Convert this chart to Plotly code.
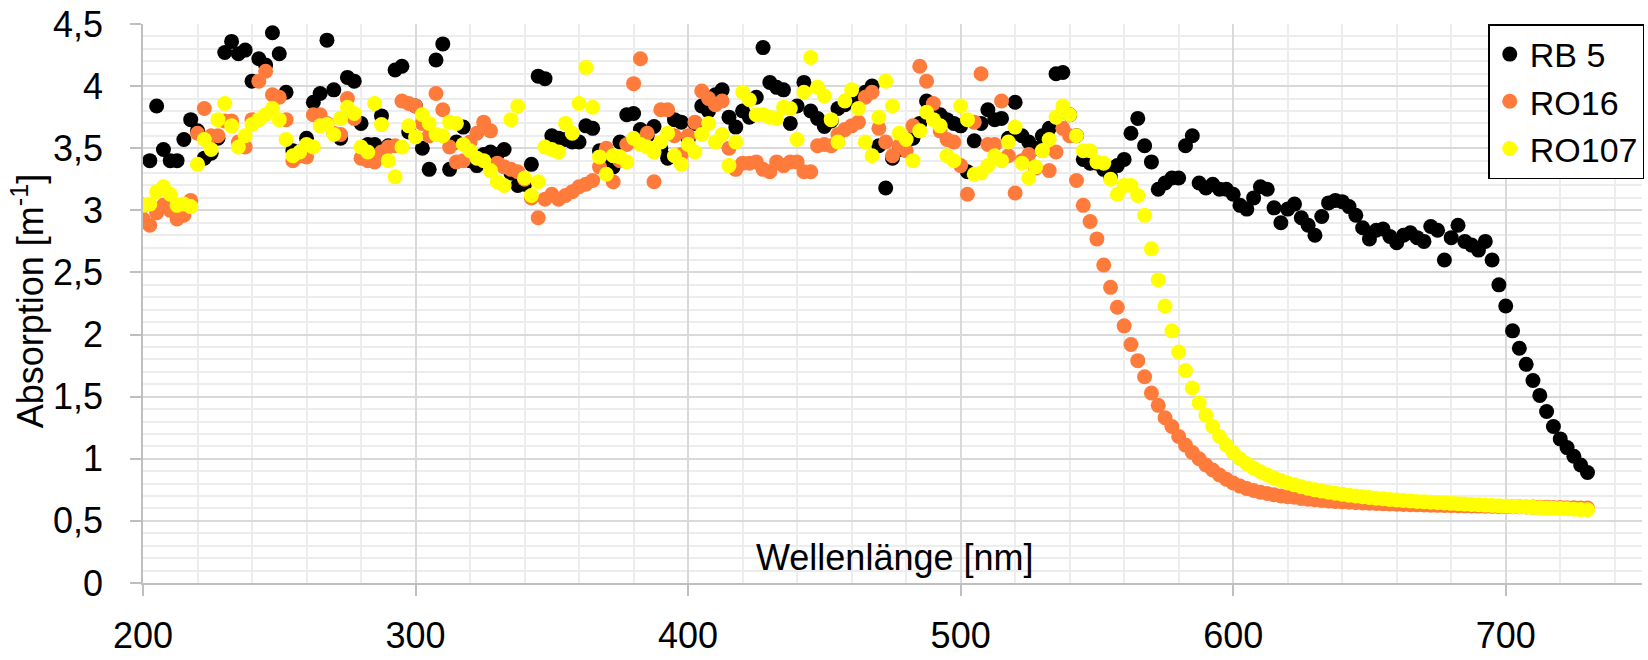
import numpy as np
import plotly.graph_objects as go

# Wellenlänge in nm, Messraster 2,5 nm
wavelength = np.arange(200, 730.01, 2.5)

rb5 = [
    3.04, 3.40, 3.84, 3.49, 3.40, 3.40, 3.57, 3.73, 3.64, 3.42,
    3.46, 3.58, 4.27, 4.36, 4.26, 4.29, 4.04, 4.22, 4.17, 4.43,
    4.26, 3.95, 3.48, 3.47, 3.58, 3.87, 3.94, 4.37, 3.97, 3.58,
    4.07, 4.04, 3.70, 3.53, 3.53, 3.76, 3.52, 4.13, 4.16, 3.63,
    3.84, 3.50, 3.33, 4.21, 4.34, 3.33, 3.55, 3.67, 3.40, 3.36,
    3.45, 3.47, 3.45, 3.49, 3.30, 3.20, 3.21, 3.37, 4.08, 4.06,
    3.60, 3.58, 3.57, 3.55, 3.55, 3.68, 3.66, 3.48, 3.39, 3.35,
    3.55, 3.77, 3.78, 3.65, 3.60, 3.675, 3.50, 3.42, 3.73, 3.71,
    3.57, 3.70, 3.84, 3.80, 3.93, 3.97, 3.75, 3.67, 3.80, 3.75,
    3.91, 4.31, 4.03, 3.99, 3.97, 3.70, 3.84, 4.03, 3.80, 3.74,
    3.675, 3.72, 3.82, 3.85, 3.88, 3.91, 3.95, 4.00, 3.52, 3.18,
    3.42, 3.49, 3.55, 3.58, 3.70, 3.88, 3.80, 3.77, 3.73, 3.70,
    3.68, 3.31, 3.56, 3.70, 3.81, 3.73, 3.74, 3.58, 3.87, 3.60,
    3.55, 3.50, 3.60, 3.66, 4.10, 4.11, 3.77, 3.60, 3.41, 3.38,
    3.38, 3.33, 3.27, 3.36, 3.41, 3.62, 3.74, 3.52, 3.39, 3.17,
    3.22, 3.26, 3.26, 3.52, 3.60, 3.22, 3.18, 3.21, 3.17, 3.17,
    3.13, 3.04, 3.01, 3.10, 3.19, 3.17, 3.02, 2.90, 3.01, 3.05,
    2.94, 2.88, 2.80, 2.95, 3.06, 3.08, 3.07, 3.03, 2.96, 2.86,
    2.77, 2.84, 2.85, 2.79, 2.74, 2.80, 2.82, 2.78, 2.75, 2.87,
    2.84, 2.60, 2.78, 2.88, 2.75, 2.72, 2.68, 2.75, 2.60, 2.40,
    2.23, 2.03, 1.89, 1.76, 1.63, 1.51, 1.38, 1.26, 1.16, 1.09,
    1.02, 0.95, 0.89,
]

ro16 = [
    2.93, 2.88, 2.98, 3.04, 3.00, 2.93, 2.96, 3.08, 3.62, 3.82,
    3.60, 3.60, 3.72, 3.72, 3.55, 3.51, 3.73, 4.04, 4.12, 3.93,
    3.91, 3.73, 3.40, 3.44, 3.43, 3.77, 3.77, 3.70, 3.62, 3.61,
    3.90, 3.74, 3.42, 3.40, 3.39, 3.47, 3.51, 3.52, 3.88, 3.86,
    3.84, 3.70, 3.60, 3.94, 3.81, 3.51, 3.39, 3.40, 3.55, 3.62,
    3.71, 3.64, 3.38, 3.35, 3.33, 3.31, 3.25, 3.10, 2.94, 3.09,
    3.13, 3.09, 3.12, 3.15, 3.19, 3.21, 3.24, 3.35, 3.50, 3.23,
    3.40, 3.53, 4.02, 4.22, 3.62, 3.23, 3.81, 3.81, 3.60, 3.45,
    3.60, 3.71, 3.96, 3.90, 3.85, 3.88, 3.50, 3.33, 3.38, 3.38,
    3.39, 3.33, 3.31, 3.39, 3.36, 3.39, 3.39, 3.31, 3.31, 3.52,
    3.53, 3.52, 3.61, 3.65, 3.68, 3.71, 3.91, 3.95, 3.66, 3.55,
    3.44, 3.52, 3.48, 3.68, 4.16, 4.04, 3.86, 3.64, 3.57, 3.55,
    3.36, 3.13, 3.71, 4.10, 3.53, 3.53, 3.88, 3.44, 3.14, 3.40,
    3.45, 3.34, 3.48, 3.32, 3.47, 3.66, 3.60, 3.24, 3.04, 2.91,
    2.77, 2.56, 2.38, 2.22, 2.07, 1.92, 1.79, 1.66, 1.53, 1.43,
    1.33, 1.26, 1.18, 1.11, 1.05, 1.00, 0.95, 0.91, 0.87, 0.835,
    0.805, 0.78, 0.76, 0.745, 0.73, 0.72, 0.71, 0.70, 0.695, 0.69,
    0.68, 0.675, 0.67, 0.665, 0.66, 0.657, 0.654, 0.65, 0.647, 0.645,
    0.643, 0.64, 0.638, 0.636, 0.634, 0.632, 0.63, 0.629, 0.628, 0.626,
    0.625, 0.624, 0.623, 0.622, 0.621, 0.62, 0.619, 0.618, 0.617, 0.616,
    0.615, 0.614, 0.613, 0.612, 0.611, 0.61, 0.609, 0.608, 0.607, 0.606,
    0.605, 0.604, 0.603,
]

ro107 = [
    3.04, 3.05, 3.15, 3.19, 3.13, 3.04, 3.05, 3.03, 3.37, 3.57,
    3.49, 3.73, 3.86, 3.68, 3.51, 3.60, 3.69, 3.73, 3.77, 3.82,
    3.73, 3.57, 3.44, 3.47, 3.53, 3.51, 3.68, 3.69, 3.61, 3.74,
    3.83, 3.78, 3.51, 3.47, 3.86, 3.69, 3.40, 3.27, 3.51, 3.68,
    3.59, 3.77, 3.70, 3.61, 3.60, 3.71, 3.70, 3.53, 3.48, 3.42,
    3.40, 3.32, 3.23, 3.20, 3.73, 3.84, 3.26, 3.12, 3.23, 3.51,
    3.49, 3.47, 3.70, 3.62, 3.86, 4.15, 3.83, 3.43, 3.29, 3.44,
    3.43, 3.39, 3.58, 3.53, 3.51, 3.47, 3.55, 3.62, 3.44, 3.37,
    3.53, 3.47, 3.61, 3.70, 3.55, 3.61, 3.36, 3.55, 3.95, 3.89,
    3.77, 3.77, 3.75, 3.74, 3.83, 3.82, 3.57, 3.95, 4.23, 3.99,
    3.92, 3.73, 3.55, 3.88, 3.97, 3.82, 3.55, 3.44, 3.75, 4.04,
    3.84, 3.62, 3.57, 3.40, 3.64, 3.79, 3.73, 3.68, 3.44, 3.40,
    3.84, 3.73, 3.29, 3.30, 3.36, 3.44, 3.40, 3.55, 3.67, 3.38,
    3.26, 3.35, 3.48, 3.57, 3.75, 3.84, 3.77, 3.60, 3.48, 3.48,
    3.39, 3.38, 3.25, 3.13, 3.20, 3.20, 3.12, 2.96, 2.69, 2.44,
    2.23, 2.03, 1.86, 1.71, 1.57, 1.45, 1.35, 1.26, 1.18, 1.11,
    1.05, 1.00, 0.96, 0.925, 0.895, 0.87, 0.845, 0.825, 0.805, 0.79,
    0.775, 0.762, 0.75, 0.74, 0.73, 0.722, 0.714, 0.707, 0.70, 0.694,
    0.688, 0.683, 0.678, 0.673, 0.669, 0.665, 0.661, 0.657, 0.654, 0.65,
    0.647, 0.644, 0.641, 0.638, 0.635, 0.632, 0.63, 0.627, 0.624, 0.622,
    0.619, 0.616, 0.614, 0.611, 0.609, 0.606, 0.604, 0.601, 0.599, 0.597,
    0.594, 0.592, 0.59,
]

series = [("RB 5", rb5, "#000000"), ("RO16", ro16, "#FF7B3B"), ("RO107", ro107, "#FFFF00")]

FONT = "Liberation Sans, Arial, sans-serif"

fig = go.Figure()
for name, vals, color in series:
    fig.add_trace(go.Scatter(
        x=wavelength, y=vals, mode="markers", name=name,
        marker=dict(size=15, color=color, line=dict(width=0)),
    ))

fig.update_layout(
    width=1648, height=660,
    margin=dict(l=143, r=4, t=21, b=61),
    paper_bgcolor="white", plot_bgcolor="white",
    separators=", ",
    font=dict(family=FONT, size=36, color="#000000"),
    showlegend=True,
    legend=dict(
        x=1.0015, xanchor="right", y=1.0, yanchor="top",
        bordercolor="#000000", borderwidth=1.5, bgcolor="white",
        font=dict(size=34), tracegroupgap=0,
    ),
    annotations=[
        dict(text="Wellenlänge [nm]", xref="paper", yref="paper", x=0.502, y=0.046,
             showarrow=False, font=dict(size=36), xanchor="center", yanchor="middle"),
        dict(text="Absorption [m<sup>-1</sup>]", xref="paper", yref="paper", x=-0.077, y=0.505,
             showarrow=False, textangle=-90, font=dict(size=36), xanchor="center", yanchor="middle"),
    ],
)

fig.update_xaxes(
    range=[200, 750], tick0=200, dtick=100,
    showgrid=True, gridcolor="#d9d9d9", gridwidth=1.5,
    minor=dict(dtick=20, showgrid=True, gridcolor="#ededed", gridwidth=1.5),
    ticks="outside", ticklen=11, tickwidth=1.5, tickcolor="#bfbfbf",
    showline=True, linecolor="#bfbfbf", linewidth=1.5,
    zeroline=False, ticklabelstandoff=9,
)
fig.update_yaxes(
    range=[0, 4.5], tick0=0, dtick=0.5,
    showgrid=True, gridcolor="#d9d9d9", gridwidth=1.5,
    minor=dict(dtick=0.1, showgrid=True, gridcolor="#ededed", gridwidth=1.5),
    ticks="outside", ticklen=11, tickwidth=1.5, tickcolor="#bfbfbf",
    showline=True, linecolor="#bfbfbf", linewidth=1.5,
    zeroline=False, ticklabelstandoff=20,
)

fig.write_html("out.html")
